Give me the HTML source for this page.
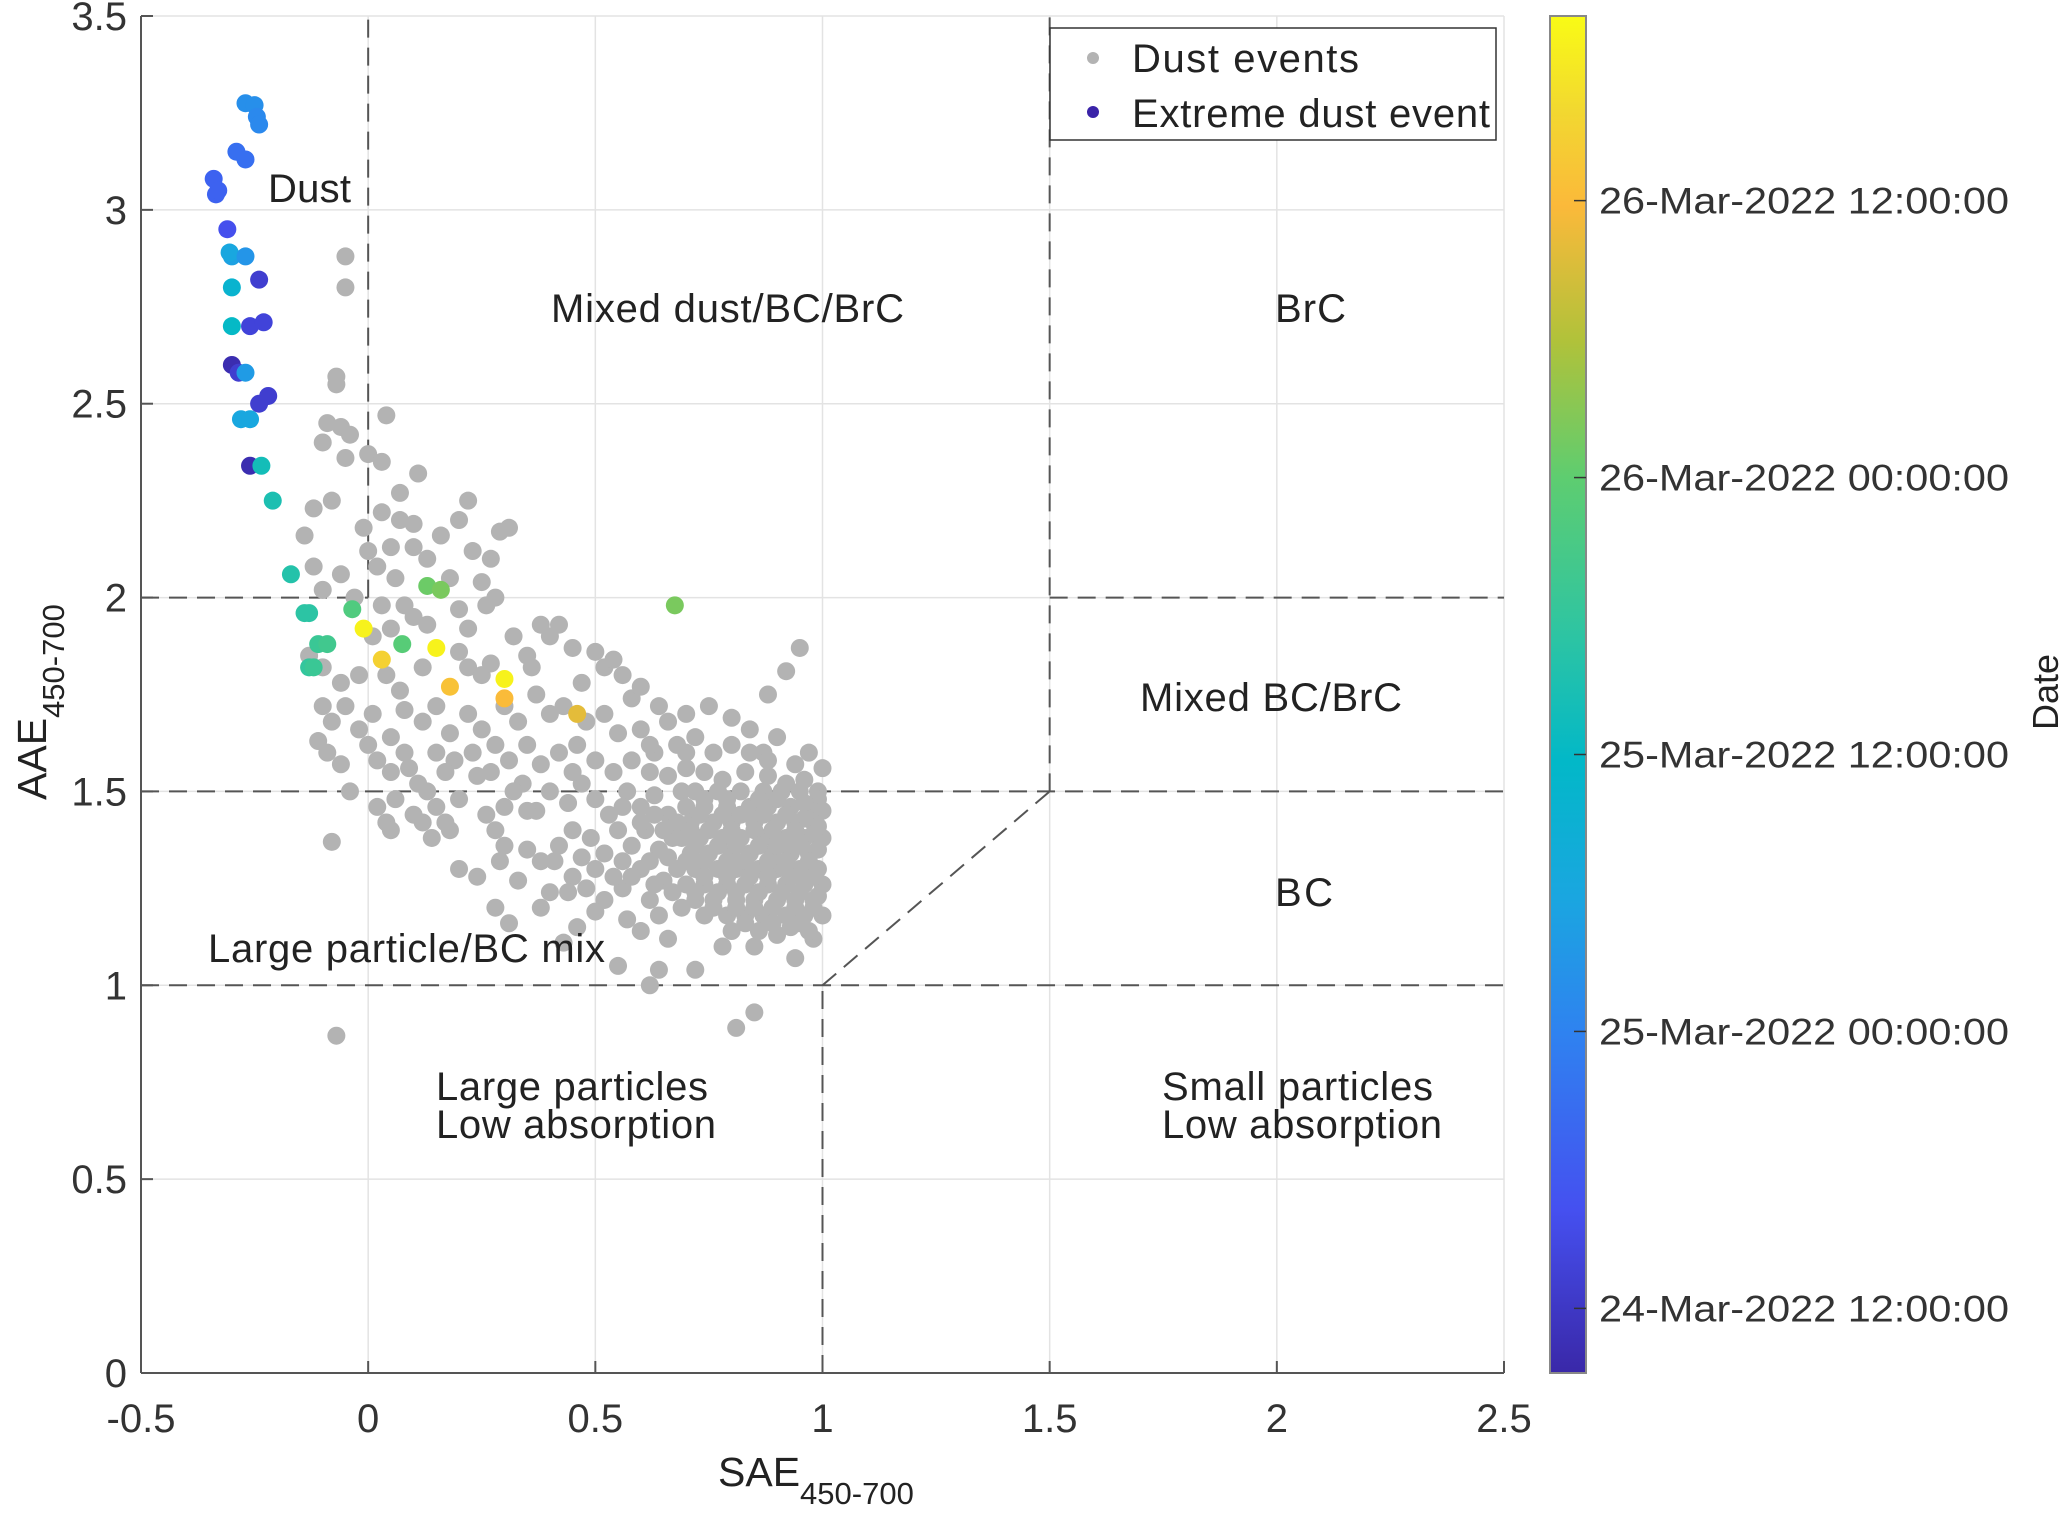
<!DOCTYPE html>
<html><head><meta charset="utf-8"><style>
html,body{margin:0;padding:0;background:#fff;}
svg{display:block;font-family:"Liberation Sans",Arial,sans-serif;}
</style></head><body>
<svg id="chart" width="2067" height="1515" viewBox="0 0 2067 1515" xmlns="http://www.w3.org/2000/svg">
<rect width="2067" height="1515" fill="#fff"/>
<g id="grid"></g>
<g id="regions"></g>
<g id="gray"></g>
<g id="colored"></g>
<g id="axes"></g>
<g id="labels" font-size="40" fill="#222">
<text x="268" y="202" textLength="83">Dust</text>
<text x="551" y="322" textLength="353">Mixed dust/BC/BrC</text>
<text x="1275" y="322" textLength="71">BrC</text>
<text x="1140" y="711" textLength="262">Mixed BC/BrC</text>
<text x="1275" y="906" textLength="58">BC</text>
<text x="208" y="962" textLength="397">Large particle/BC mix</text>
<text x="436" y="1100" textLength="272">Large particles</text>
<text x="436" y="1138" textLength="280">Low absorption</text>
<text x="1162" y="1100" textLength="271">Small particles</text>
<text x="1162" y="1138" textLength="280">Low absorption</text>
</g>
<g>
<rect x="1050" y="28" width="446" height="112" fill="#fff" stroke="#333" stroke-width="1.5"/>
<circle cx="1093" cy="58" r="6" fill="#b3b3b3"/>
<text x="1132" y="72" font-size="40" textLength="227" fill="#222">Dust events</text>
<circle cx="1093" cy="112" r="6" fill="#3a23a8"/>
<text x="1132" y="127" font-size="40" textLength="358" fill="#222">Extreme dust event</text>
</g>
<text x="718" y="1486" font-size="41" fill="#222">SAE<tspan font-size="31" dy="18">450-700</tspan></text>
<text transform="translate(46,800) rotate(-90)" font-size="41" fill="#222">AAE<tspan font-size="31" dy="18">450-700</tspan></text>
<defs><linearGradient id="parula" x1="0" y1="1" x2="0" y2="0"></linearGradient></defs>
<g id="cbar"></g>
<text transform="translate(2058,692) rotate(-90)" text-anchor="middle" font-size="36" fill="#222">Date</text>
</svg>
<script>
const xTicks=[-0.5,0,0.5,1,1.5,2,2.5];
const yTicks=[0,0.5,1,1.5,2,2.5,3,3.5];
const xTickLabels=["-0.5","0","0.5","1","1.5","2","2.5"];
const yTickLabels=["0","0.5","1","1.5","2","2.5","3","3.5"];
const cbarTickHours=[12,24,36,48,60];
const cbarTickLabels=["24-Mar-2022 12:00:00","25-Mar-2022 00:00:00","25-Mar-2022 12:00:00","26-Mar-2022 00:00:00","26-Mar-2022 12:00:00"];
const timeMin=9.2, timeMax=68;
const boundaries=[[0,2,0,3.5],[-0.5,2,0,2],[1.5,2,2.5,2],[1.5,1.5,1.5,3.5],[-0.5,1.5,2.5,1.5],[-0.5,1,2.5,1],[1,0,1,1],[1,1,1.5,1.5]];
const extSAE=[-0.27,-0.25,-0.245,-0.24,-0.29,-0.27,-0.34,-0.335,-0.33,-0.31,-0.3,-0.305,-0.27,-0.24,-0.3,-0.30,-0.26,-0.23,-0.3,-0.285,-0.27,-0.24,-0.22,-0.28,-0.26,-0.26,-0.235,-0.21,-0.17,-0.14,-0.13,-0.11,-0.09,-0.13,-0.12,-0.035,-0.01,0.03,0.075,0.13,0.16,0.15,0.18,0.30,0.30,0.46,0.675];
const extAAE=[3.275,3.27,3.24,3.22,3.15,3.13,3.08,3.04,3.05,2.95,2.88,2.89,2.88,2.82,2.80,2.70,2.70,2.71,2.60,2.58,2.58,2.50,2.52,2.46,2.46,2.34,2.34,2.25,2.06,1.96,1.96,1.88,1.88,1.82,1.82,1.97,1.92,1.84,1.88,2.03,2.02,1.87,1.77,1.79,1.74,1.70,1.98];
const extTime=[26,26,25,25,21,21,19,19,19,16,29,30,27,13,34,36,14,14,10,13,28,13,13,30,30,10,38,39,40,41,41,43,44,42,43,46,67,63,47,49,50,67,61,67,60,58,50];
const grayPts=[
[-0.05,2.88],[-0.05,2.8],[-0.07,2.57],[-0.07,2.55],[-0.09,2.45],[-0.06,2.44],[-0.04,2.42],[-0.1,2.4],[0.04,2.47],[-0.05,2.36],[0,2.37],[0.03,2.35],[0.11,2.32],[-0.08,2.25],[-0.12,2.23],[0.07,2.27],[0.03,2.22],[-0.01,2.18],[0.07,2.2],[0.1,2.19],[0.16,2.16],[0.22,2.25],[0.2,2.2],[0.29,2.17],[0.31,2.18],[-0.14,2.16],[0,2.12],[0.05,2.13],[0.1,2.13],[0.13,2.1],[0.23,2.12],[0.27,2.1],[-0.12,2.08],[-0.06,2.06],[0.02,2.08],[0.06,2.05],[0.18,2.05],[0.25,2.04],[0.28,2.0],[-0.1,2.02],[-0.03,2.0],[0.03,1.98],[0.08,1.98],[0.2,1.97],[0.26,1.98],[0.38,1.93],[0.1,1.95],[0.13,1.93],[0.22,1.92],[0.01,1.9],[0.05,1.92],
[-0.13,1.85],[-0.1,1.82],[-0.06,1.78],[-0.02,1.8],[0.04,1.8],[0.07,1.76],[0.12,1.82],[0.2,1.86],[0.22,1.82],[0.25,1.8],[0.27,1.83],[0.35,1.85],[0.36,1.82],[0.32,1.9],[0.4,1.9],[0.42,1.93],[0.45,1.87],[0.5,1.86],[0.52,1.82],[0.54,1.84],[0.47,1.78],[0.56,1.8],[0.58,1.74],[0.6,1.77],[0.64,1.72],[0.66,1.68],[0.7,1.7],[0.75,1.72],[0.8,1.69],[0.88,1.75],[0.92,1.81],[0.95,1.87],[-0.1,1.72],[-0.08,1.68],[-0.05,1.72],[-0.02,1.66],[0.01,1.7],[-0.11,1.63],[-0.09,1.6],[-0.06,1.57],[0.05,1.64],[0.08,1.71],[0.12,1.68],[0.15,1.72],[0.18,1.65],[0.22,1.7],[0.25,1.66],[0.3,1.72],[0.33,1.68],[0.37,1.75],[0.4,1.7],[0.43,1.72],[0.48,1.68],[0.52,1.7],[0.55,1.65],[0.6,1.66],[0.63,1.6],[0.68,1.62],[0.72,1.64],[0.76,1.6],[0.8,1.62],[0.84,1.66],[0.87,1.6],[0.9,1.64],[0.94,1.57],[0.97,1.6],[1.0,1.56],[0.02,1.58],[0.05,1.55],[0.08,1.6],[0.11,1.52],[0.15,1.6],[0.19,1.58],[0.23,1.6],[0.27,1.55],[0.31,1.58],[0.35,1.62],[0.38,1.57],[0.42,1.6],[0.46,1.62],[0.5,1.58],[0.54,1.55],[0.58,1.58],[0.62,1.55],[0.66,1.54],[0.7,1.56],[0.74,1.55],[0.78,1.53],[0.83,1.55],[0.88,1.54],[0.92,1.52],[0.96,1.53],[0.99,1.5],[-0.04,1.5],[0.02,1.46],[0.04,1.42],[0.06,1.48],[0.1,1.44],[0.13,1.5],[0.17,1.42],[0.2,1.48],[0.26,1.44],[0.3,1.46],[0.34,1.52],[0.37,1.45],[0.4,1.5],[0.44,1.47],[0.47,1.52],[0.5,1.48],[0.53,1.44],[0.57,1.5],[0.6,1.46],[0.63,1.49],[0.66,1.44],[0.69,1.5],
[0.05,1.4],[0.12,1.42],[0.14,1.38],[0.18,1.4],[0.28,1.4],[0.3,1.36],[0.35,1.35],[0.38,1.32],[0.42,1.36],[0.45,1.4],[0.49,1.38],[0.52,1.34],[0.55,1.4],[0.58,1.36],[0.61,1.4],[0.64,1.35],[0.67,1.38],[0.2,1.3],[0.24,1.28],[0.29,1.32],[0.33,1.27],[0.28,1.2],[0.31,1.16],[0.41,1.32],[0.45,1.28],[0.48,1.25],[0.5,1.3],[0.52,1.22],[0.56,1.25],[0.6,1.3],[0.62,1.22],[0.65,1.27],[0.68,1.3],[0.46,1.15],[0.5,1.19],[0.57,1.17],[0.6,1.14],[0.64,1.18],[0.66,1.12],[0.69,1.2],[-0.08,1.37],[-0.07,0.87],[0.62,1.0],[0.64,1.04],[0.72,1.04],[0.81,0.89],[0.85,0.93],[0.78,1.1],[0.85,1.1],[0.9,1.13],[0.94,1.07],[0.98,1.12],[0.55,1.05],[0.43,1.11],[0.38,1.2],[0.4,1.24],
[0.72,1.5],[0.77,1.5],[0.82,1.5],[0.87,1.5],[0.91,1.5],[0.95,1.5],[0.99,1.48],
[0.7,1.46],[0.74,1.46],[0.79,1.46],[0.84,1.46],[0.88,1.46],[0.93,1.46],[0.97,1.46],[1.0,1.45],
[0.71,1.42],[0.76,1.42],[0.8,1.42],[0.85,1.42],[0.9,1.42],[0.94,1.42],[0.98,1.42],
[0.69,1.38],[0.73,1.38],[0.78,1.38],[0.82,1.38],[0.87,1.38],[0.92,1.38],[0.96,1.38],[1.0,1.38],
[0.71,1.34],[0.75,1.34],[0.8,1.34],[0.84,1.34],[0.89,1.34],[0.93,1.34],[0.97,1.34],
[0.72,1.3],[0.77,1.3],[0.81,1.3],[0.86,1.3],[0.9,1.3],[0.95,1.3],[0.99,1.3],
[0.7,1.26],[0.74,1.26],[0.79,1.26],[0.83,1.26],[0.88,1.26],[0.92,1.26],[0.96,1.26],[1.0,1.26],
[0.72,1.22],[0.76,1.22],[0.81,1.22],[0.85,1.22],[0.9,1.22],[0.94,1.22],[0.98,1.22],
[0.74,1.18],[0.79,1.18],[0.83,1.18],[0.87,1.18],[0.92,1.18],[0.96,1.18],[1.0,1.18],
[0.8,1.14],[0.86,1.14],[0.93,1.15],[0.97,1.14],
[0.74,1.48],[0.79,1.48],[0.86,1.48],[0.9,1.48],[0.96,1.47],[0.73,1.44],[0.78,1.44],[0.82,1.44],[0.87,1.44],[0.92,1.44],[0.96,1.43],[0.99,1.41],
[0.71,1.4],[0.75,1.4],[0.8,1.4],[0.85,1.4],[0.89,1.4],[0.94,1.4],[0.98,1.39],[0.72,1.36],[0.77,1.36],[0.81,1.36],[0.86,1.36],[0.9,1.36],[0.95,1.36],[0.99,1.35],
[0.7,1.32],[0.74,1.32],[0.79,1.32],[0.83,1.32],[0.88,1.32],[0.92,1.32],[0.97,1.32],[0.74,1.28],[0.79,1.28],[0.84,1.28],[0.88,1.28],[0.93,1.28],[0.98,1.28],
[0.72,1.24],[0.77,1.24],[0.81,1.24],[0.86,1.24],[0.91,1.24],[0.95,1.24],[0.99,1.23],[0.76,1.2],[0.81,1.2],[0.85,1.2],[0.89,1.2],[0.94,1.2],[0.98,1.2],[0.83,1.16],[0.89,1.16],[0.95,1.16],
[0.6,1.42],[0.63,1.44],[0.56,1.46],[0.65,1.4],[0.68,1.42],[0.62,1.32],[0.66,1.33],[0.56,1.32],[0.58,1.28],[0.63,1.26],[0.67,1.24],[0.54,1.28],[0.47,1.33],[0.44,1.24],[0.35,1.45],[0.32,1.5],[0.24,1.54],[0.17,1.55],[0.09,1.56],[0.15,1.46],[0.0,1.62],[0.28,1.62],[0.45,1.55],[0.62,1.62],[0.7,1.6],[0.84,1.6],[0.88,1.58]
];
const parulaPos=[0,0.12,0.25,0.35,0.45,0.55,0.66,0.76,0.86,0.93,1];
const parulaCol=["#3a28a8","#4550f0","#2f82f0","#1aa6e0","#02b8c8","#30c5a0","#5ecd70","#b0c23a","#fbb93a","#f2d830","#f9fb15"];
const NS="http://www.w3.org/2000/svg";
const X0=141,X1=1504,Y0=1373,Y1=16;
const xs=v=>X0+(v+0.5)/3*(X1-X0);
const ys=v=>Y0-v/3.5*(Y0-Y1);
const ts=h=>Y0-(h-timeMin)/(timeMax-timeMin)*(Y0-Y1);
function mk(tag,attrs,parent){const e=document.createElementNS(NS,tag);for(const k in attrs)e.setAttribute(k,attrs[k]);parent.appendChild(e);return e;}
function hex(c){return [1,3,5].map(i=>parseInt(c.substr(i,2),16));}
function parula(t){t=Math.max(0,Math.min(1,t));for(let i=1;i<parulaPos.length;i++){if(t<=parulaPos[i]){const f=(t-parulaPos[i-1])/(parulaPos[i]-parulaPos[i-1]);const a=hex(parulaCol[i-1]),b=hex(parulaCol[i]);return "rgb("+a.map((v,j)=>Math.round(v+(b[j]-v)*f)).join(",")+")";}}return parulaCol[parulaCol.length-1];}
const grid=document.getElementById('grid');
xTicks.forEach(v=>{const l=mk('line',{x1:xs(v),x2:xs(v),y1:Y0,y2:Y1,stroke:'#e3e3e3','stroke-width':1.5},grid);

});
yTicks.forEach(v=>{const l=mk('line',{x1:X0,x2:X1,y1:ys(v),y2:ys(v),stroke:'#e3e3e3','stroke-width':1.5},grid);

});
const reg=document.getElementById('regions');
boundaries.forEach(b=>{const l=mk('line',{x1:xs(b[0]),y1:ys(b[1]),x2:xs(b[2]),y2:ys(b[3]),stroke:'#555','stroke-width':2,'stroke-dasharray':'18,10'},reg);

});
const gg=document.getElementById('gray');
grayPts.forEach(p=>{const c=mk('circle',{cx:xs(p[0]),cy:ys(p[1]),r:9,fill:'#b3b3b3'},gg);

});
const cg=document.getElementById('colored');
extSAE.forEach((s,i)=>{const c=mk('circle',{cx:xs(s),cy:ys(extAAE[i]),r:9,fill:parula((extTime[i]-timeMin)/(timeMax-timeMin))},cg);

});
const ax=document.getElementById('axes');
const la=mk('line',{x1:X0,y1:Y0,x2:X0,y2:Y1,stroke:'#555','stroke-width':2},ax);


const lb=mk('line',{x1:X0,y1:Y0,x2:X1,y2:Y0,stroke:'#555','stroke-width':2},ax);


xTicks.forEach((v,i)=>{mk('line',{x1:xs(v),x2:xs(v),y1:Y0,y2:Y0-12,stroke:'#555','stroke-width':2},ax);
const t=mk('text',{x:xs(v),y:1432,'text-anchor':'middle','font-size':40,fill:'#333'},ax);t.textContent=xTickLabels[i];

});
yTicks.forEach((v,i)=>{mk('line',{x1:X0,x2:X0+12,y1:ys(v),y2:ys(v),stroke:'#555','stroke-width':2},ax);
const t=mk('text',{x:127,y:ys(v)+14,'text-anchor':'end','font-size':40,fill:'#333'},ax);t.textContent=yTickLabels[i];

});
const grad=document.getElementById('parula');
parulaPos.forEach((p,i)=>{mk('stop',{offset:p,'stop-color':parulaCol[i]},grad);});
const cb=document.getElementById('cbar');
const cr=mk('rect',{x:1550,y:Y1,width:36,height:Y0-Y1,fill:'url(#parula)',stroke:'#888','stroke-width':2},cb);


cbarTickHours.forEach((h,i)=>{const y=ts(h);mk('line',{x1:1574,x2:1586,y1:y,y2:y,stroke:'#333','stroke-width':1.5},cb);
const t=mk('text',{x:1599,y:y+13,'font-size':37,fill:'#333',textLength:410,lengthAdjust:'spacingAndGlyphs'},cb);t.textContent=cbarTickLabels[i];

});
</script>
</body></html>
